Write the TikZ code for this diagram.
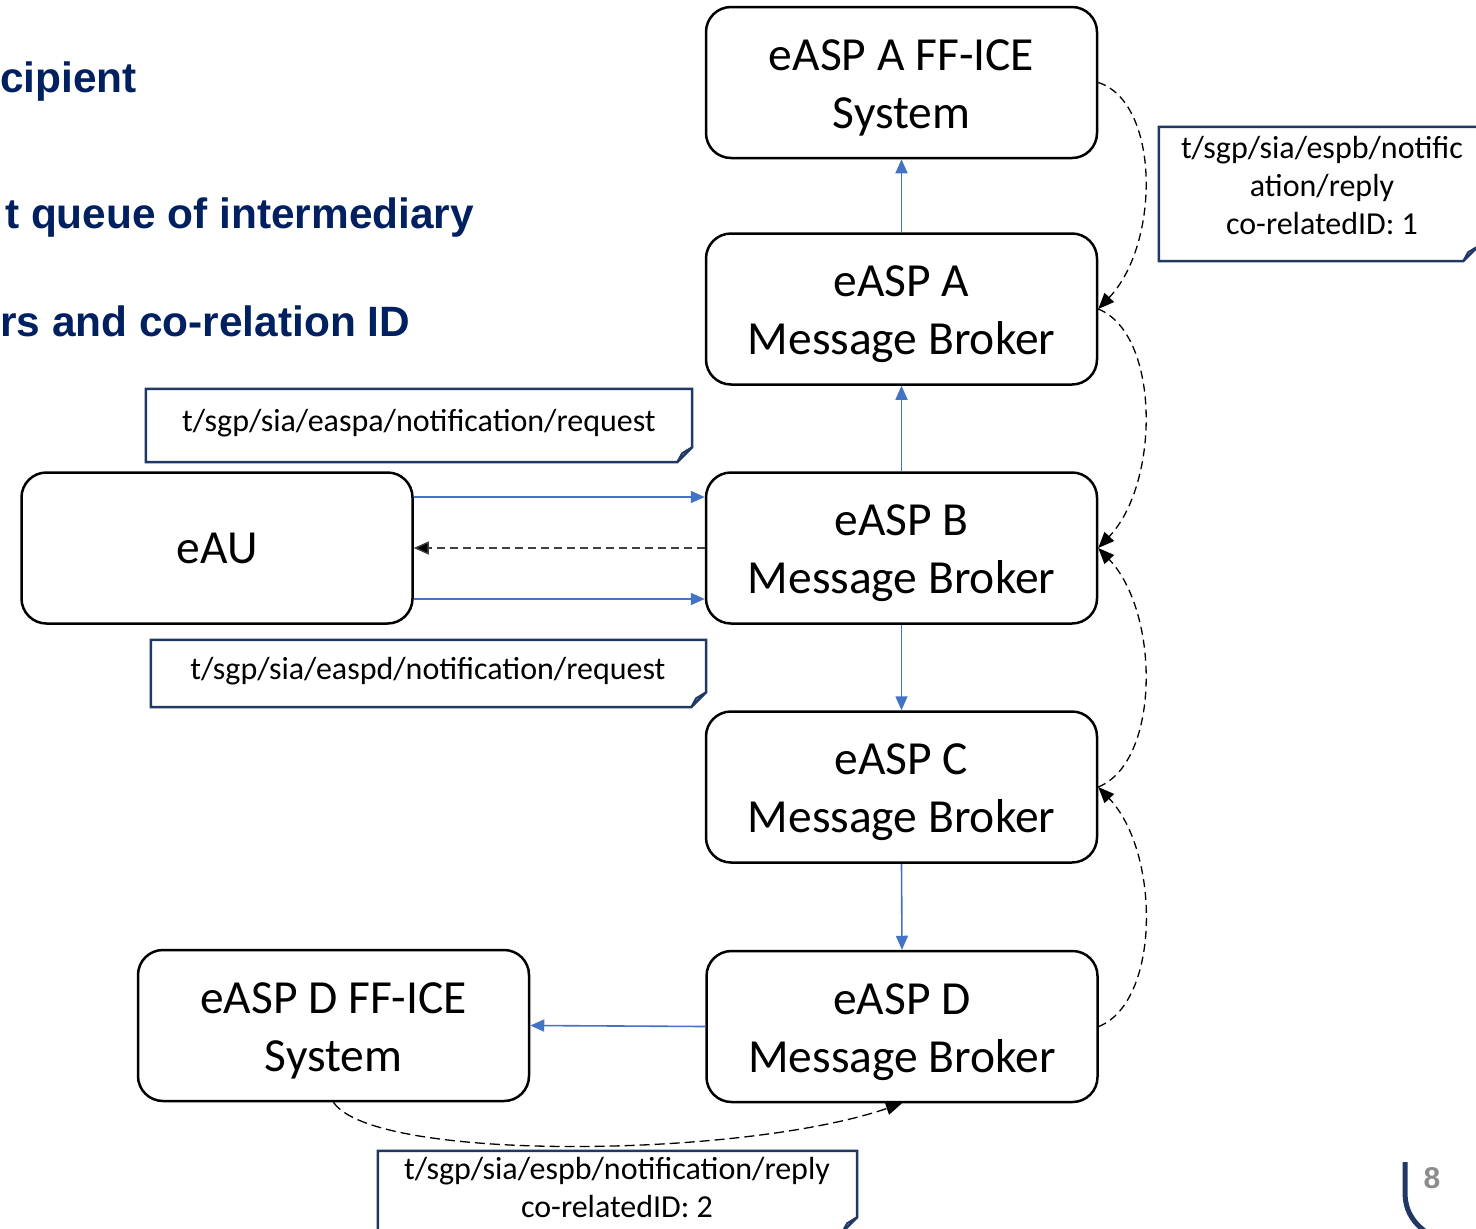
\documentclass[tikz,border=0pt]{standalone}
\usepackage{fontspec}
\setmainfont{Carlito}
\newfontfamily\arsfont{Liberation Sans}
\usetikzlibrary{arrows.meta}
\definecolor{navy}{HTML}{002060}
\definecolor{lblc}{HTML}{203864}
\definecolor{bluearr}{HTML}{4472C4}
\definecolor{darkdash}{HTML}{404040}
\definecolor{pgnum}{HTML}{8C8C8C}
\newcommand\toprule{\rule{0pt}{42pt}}
\tikzset{
  box/.style={draw=black, line width=2.5pt, rounded corners=25pt, minimum width=391pt, minimum height=151pt, inner sep=0pt, align=center, font=\fontsize{47.5}{58}\selectfont},
  lblbox/.style={inner sep=0pt},
  lbltext/.style={align=center, inner sep=0pt, font=\fontsize{32}{38}\selectfont},
  lblline/.style={draw=lblc, line width=2.5pt, line join=miter},
  barr/.style={draw=bluearr, line width=1.6pt, -{Triangle[length=14pt,width=12pt]}, fill=bluearr},
  darr/.style={draw=black, line width=1.3pt, dash pattern=on 8pt off 5pt, -{Triangle[length=16pt,width=13pt]}},
  title/.style={anchor=base west, inner sep=0pt, text=navy, font=\arsfont\bfseries\fontsize{42.4}{48}\selectfont}
}
\newcommand\foldshape[1]{%
  \draw[lblline] (#1.north west) -- (#1.north east) -- ([yshift=15pt]#1.south east) -- ([xshift=-15pt]#1.south east) -- (#1.south west) -- cycle;
  \draw[lblline, line width=2pt] ([yshift=15pt]#1.south east) -- ([xshift=-10pt,yshift=9pt]#1.south east) -- ([xshift=-15pt]#1.south east);
}
\begin{document}
\begin{tikzpicture}[x=1pt,y=-1pt]
\clip (0,0) rectangle (1476,1229);
\fill[white] (0,0) rectangle (1476,1229);

% titles (visible parts)
\node[title] (t1) at (0,92) {cipient};
\node[title] (t2) at (5,228) {t queue of intermediary};
\node[title] (t3) at (0,336) {rs and co-relation ID};

% boxes
\node[box] (affice) at (901.5,82.5) {\toprule eASP A FF-ICE\\System};
\node[box] (amb) at (901.5,309) {\toprule eASP A\\Message Broker};
\node[box] (bmb) at (901.5,548) {\toprule eASP B\\Message Broker};
\node[box] (cmb) at (901.5,787) {\toprule eASP C\\Message Broker};
\node[box] (dmb) at (902,1026.5) {\toprule eASP D\\Message Broker};
\node[box] (eau) at (217,548) {eAU};
\node[box] (dffice) at (333.5,1025.5) {\toprule eASP D FF-ICE\\System};

% labels
\node[lblbox, minimum width=546pt, minimum height=73pt] (la) at (419,425.5) {};
\foldshape{la}
\node[lbltext] (lat) at (419,423) {t/sgp/sia/easpa/notification/request};
\node[lblbox, minimum width=555pt, minimum height=67pt] (ld) at (428.5,673.5) {};
\foldshape{ld}
\node[lbltext] (ldt) at (428,671) {t/sgp/sia/easpd/notification/request};
\node[lblbox, minimum width=319pt, minimum height=134pt] (r1) at (1318.5,194) {};
\foldshape{r1}
\node[lbltext] (r1t) at (1322,186) {t/sgp/sia/espb/notific\\ation/reply\\co-relatedID: 1};
\node[lblbox, minimum width=479pt, minimum height=81pt] (r2) at (617.5,1191.5) {};
\foldshape{r2}
\node[lbltext] (r2t) at (617,1188) {t/sgp/sia/espb/notification/reply\\co-relatedID: 2};

% blue arrows
\draw[barr] (amb.north) -- (affice.south);
\draw[barr] (bmb.north) -- (amb.south);
\draw[barr] (bmb.south) -- (cmb.north);
\draw[barr] (cmb.south) -- (dmb.north);
\draw[barr] (dmb.west) -- (dffice.east);
\draw[barr] ([yshift=51pt]eau.east) -- ([yshift=51pt]bmb.west);
\draw[barr] ([yshift=-51pt]eau.east) -- ([yshift=-51pt]bmb.west);
\draw[darr, draw=darkdash, -{Triangle[length=15pt,width=13pt,fill=black]}] (bmb.west) -- (eau.east);

% dashed reply curves
\draw[darr] (affice.east) .. controls +(62,20) and +(62,-65) .. (amb.east);
\draw[darr] (amb.east) .. controls +(62,25) and +(62,-65) .. (bmb.east);
\draw[darr] (cmb.east) .. controls +(62,-25) and +(62,65) .. (bmb.east);
\draw[darr] (dmb.east) .. controls +(62,-25) and +(62,65) .. (cmb.east);
\draw[darr, dash pattern=on 10pt off 5pt] (dffice.south) .. controls +(40,60) and +(-160,55) .. (dmb.south);

% page number
\node[inner sep=0pt, text=pgnum, font=\arsfont\bfseries\fontsize{30}{36}\selectfont] (pg) at (1432,1178) {8};
\draw[lblc, line width=5pt] (1405,1162) -- (1405,1192) .. controls (1405,1212) and (1414,1224) .. (1430,1235);
\end{tikzpicture}
\end{document}
